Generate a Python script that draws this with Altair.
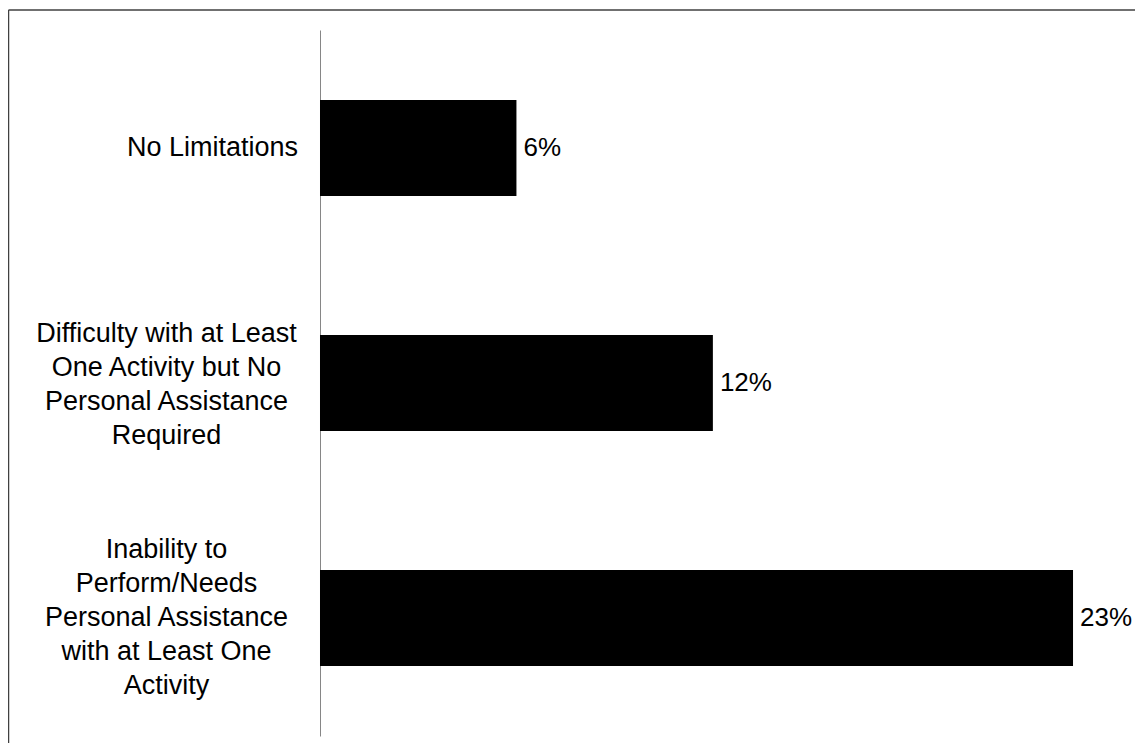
import altair as alt
import pandas as pd

categories = [
    "No Limitations",
    "Difficulty with at Least\nOne Activity but No\nPersonal Assistance\nRequired",
    "Inability to\nPerform/Needs\nPersonal Assistance\nwith at Least One\nActivity",
]
values = [6, 12, 23]

df = pd.DataFrame({"category": categories, "value": values})
frame = pd.DataFrame({"k": [0]})

FONT = "Liberation Sans"
W, H = 1125, 733

y_enc = alt.Y(
    "category:N",
    sort=categories,
    scale=alt.Scale(range=[20, 726], paddingInner=0.591, paddingOuter=0.298),
    axis=alt.Axis(
        title=None,
        orient="left",
        offset=-310,
        ticks=False,
        tickSize=0,
        grid=False,
        domainColor="#868686",
        domainWidth=1,
        labelAlign="center",
        labelBaseline="middle",
        labelFont=FONT,
        labelFontSize=27,
        labelColor="#000000",
        labelLineHeight=34,
        labelLimit=0,
        labelPadding={
            "condition": {"test": "datum.value === 'No Limitations'", "value": 108},
            "value": 154,
        },
        labelOffset={
            "condition": [
                {"test": "indexof(datum.value, 'Inability') === 0", "value": -68},
                {"test": "indexof(datum.value, 'Difficulty') === 0", "value": -49},
            ],
            "value": 0,
        },
        labelExpr="split(datum.label, '\\n')",
    ),
)

x_enc = alt.X(
    "value:Q",
    scale=alt.Scale(domain=[-9.4685, 24.893], nice=False, zero=False),
    axis=None,
)

bars = alt.Chart(df).mark_bar(color="#000000").encode(x=x_enc, y=y_enc)

labels = (
    alt.Chart(df)
    .transform_calculate(lbl="datum.value + '%'")
    .mark_text(align="left", baseline="middle", dx=7, font=FONT, fontSize=26, color="#000000")
    .encode(x=x_enc, y=y_enc, text="lbl:N")
)

top_line = alt.Chart(frame).mark_rule(color="#404040", strokeWidth=1.5).encode(
    x=alt.value(-1.5), x2=alt.value(W), y=alt.value(0)
)
left_line = alt.Chart(frame).mark_rule(color="#404040", strokeWidth=1.5).encode(
    x=alt.value(-1.5), y=alt.value(0), y2=alt.value(H)
)

chart = (
    alt.layer(bars, labels, top_line, left_line)
    .properties(
        width=W,
        height=H,
        padding={"left": 2, "top": 2, "right": 0, "bottom": 0},
        autosize=alt.AutoSizeParams(type="none"),
    )
    .configure_view(stroke=None)
)

chart.save("out.html", embed_options={"renderer": "svg", "actions": False})
